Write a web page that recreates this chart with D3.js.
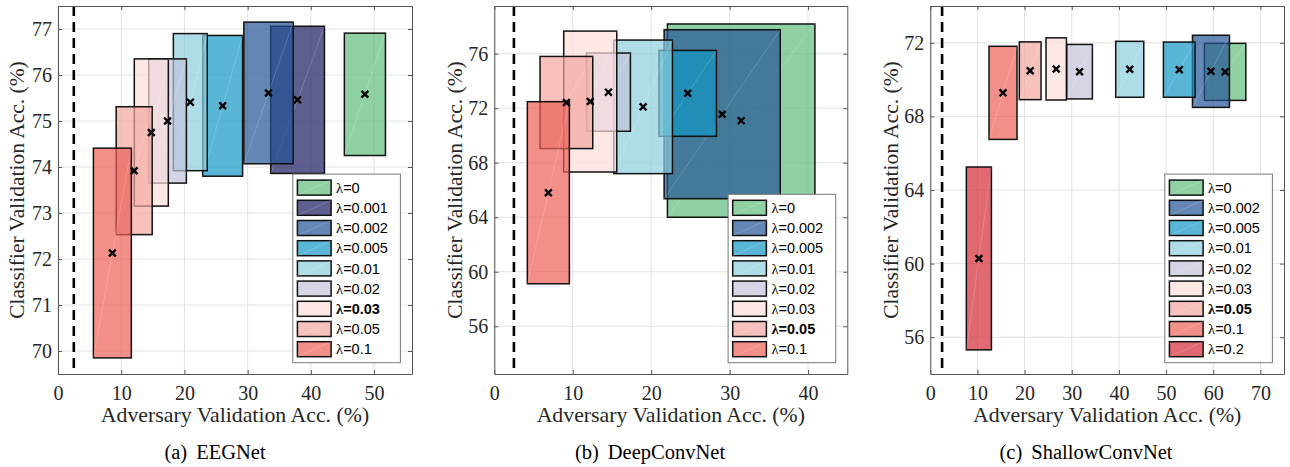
<!DOCTYPE html>
<html>
<head>
<meta charset="utf-8">
<script src="https://cdn.jsdelivr.net/npm/d3@7"></script>
<style>
  html, body { margin: 0; padding: 0; background: #fff; }
  svg { display: block; }
</style>
</head>
<body>
<svg id="chart" width="1290" height="467"></svg>
<script>
// ---------------- DATA ----------------
// Panel (a) EEGNet
const lambdasA   = ["0", "0.001", "0.002", "0.005", "0.01", "0.02", "0.03", "0.05", "0.1"];
const advMeanA   = [48.55, 37.90, 33.30, 26.05, 20.93, 17.33, 14.76, 12.05, 8.60];
const advStdA    = [3.25, 4.25, 3.90, 3.15, 2.68, 2.98, 2.69, 2.85, 3.00];
const clsMeanA   = [75.58, 75.46, 75.61, 75.33, 75.41, 75.00, 74.75, 73.92, 72.13];
const clsStdA    = [1.33, 1.60, 1.54, 1.53, 1.49, 1.35, 1.60, 1.39, 2.28];

// Panel (b) DeepConvNet
const lambdasB   = ["0", "0.002", "0.005", "0.01", "0.02", "0.03", "0.05", "0.1"];
const advMeanB   = [31.47, 29.05, 24.66, 18.97, 14.55, 12.23, 9.19, 6.89];
const advStdB    = [9.40, 7.40, 3.66, 3.74, 2.80, 3.38, 3.36, 2.68];
const clsMeanB   = [71.09, 71.56, 73.09, 72.10, 73.18, 72.49, 72.42, 65.80];
const clsStdB    = [7.09, 6.20, 3.15, 4.90, 2.87, 5.17, 3.38, 6.68];

// Panel (c) ShallowConvNet
const lambdasC   = ["0", "0.002", "0.005", "0.01", "0.02", "0.03", "0.05", "0.1", "0.2"];
const advMeanC   = [62.52, 59.51, 52.79, 42.29, 31.65, 26.70, 21.18, 15.42, 10.30];
const advStdC    = [4.39, 3.92, 3.36, 2.97, 2.72, 2.16, 2.30, 2.97, 2.66];
const clsMeanC   = [70.42, 70.45, 70.54, 70.56, 70.43, 70.58, 70.48, 69.28, 60.28];
const clsStdC    = [1.55, 1.96, 1.50, 1.52, 1.48, 1.69, 1.57, 2.53, 4.97];

// Highlighted (bold) legend entries
const boldA = "0.03", boldB = "0.05", boldC = "0.05";

// Axis ticks
const xTicksA = [0, 10, 20, 30, 40, 50];
const yTicksA = [70, 71, 72, 73, 74, 75, 76, 77];
const xTicksB = [0, 10, 20, 30, 40];
const yTicksB = [56, 60, 64, 68, 72, 76];
const xTicksC = [0, 10, 20, 30, 40, 50, 60, 70];
const yTicksC = [56, 60, 64, 68, 72];

// Chance level (dashed line)
const chanceLevel = 2.5;

// Texts
const xLabel = "Adversary Validation Acc. (%)";
const yLabel = "Classifier Validation Acc. (%)";
const captions = [["(a)", "EEGNet"], ["(b)", "DeepConvNet"], ["(c)", "ShallowConvNet"]];

// Colours per lambda (base colour, drawn with alpha)
const lambdaColors = {
  "0": "#5fbd7a",
  "0.001": "#1a1a60",
  "0.002": "#225495",
  "0.005": "#1397c4",
  "0.01": "#8bcfde",
  "0.02": "#c2c4db",
  "0.03": "#fcdedb",
  "0.05": "#f2a59e",
  "0.1": "#ec5f55",
  "0.2": "#d32a36"
};
const faceAlpha = 0.7;

// ---------------- LAYOUT ----------------
const panels = [
  { lambdas: lambdasA, advM: advMeanA, advS: advStdA, clsM: clsMeanA, clsS: clsStdA, bold: boldA,
    x0: 58, x1: 412, y0: 6, y1: 374, xDomain: [0, 56], yDomain: [69.5, 77.5],
    xTicks: xTicksA, yTicks: yTicksA, yLabelX: 24, capX: 215, caption: captions[0] },
  { lambdas: lambdasB, advM: advMeanB, advS: advStdB, clsM: clsMeanB, clsS: clsStdB, bold: boldB,
    x0: 494.3, x1: 847.3, y0: 6, y1: 374, xDomain: [0, 45], yDomain: [52.5, 79.5],
    xTicks: xTicksB, yTicks: yTicksB, yLabelX: 462, capX: 650, caption: captions[1] },
  { lambdas: lambdasC, advM: advMeanC, advS: advStdC, clsM: clsMeanC, clsS: clsStdC, bold: boldC,
    x0: 930.3, x1: 1284, y0: 6, y1: 374, xDomain: [0, 75], yDomain: [54, 74],
    xTicks: xTicksC, yTicks: yTicksC, yLabelX: 898, capX: 1086, caption: captions[2] }
];

const svg = d3.select("#chart");
const serif = "'Liberation Serif', 'Times New Roman', serif";
const sans = "'Liberation Sans', Arial, sans-serif";
const textColor = "#262626";
const axisColor = "#555";

panels.forEach(p => {
  const g = svg.append("g");
  const x = d3.scaleLinear().domain(p.xDomain).range([p.x0, p.x1]);
  const y = d3.scaleLinear().domain(p.yDomain).range([p.y1, p.y0]);

  // grid
  g.append("g").selectAll("line").data(p.xTicks).join("line")
    .attr("x1", d => x(d)).attr("x2", d => x(d))
    .attr("y1", p.y0).attr("y2", p.y1)
    .attr("stroke", "#e2e2e2").attr("stroke-width", 1);
  g.append("g").selectAll("line").data(p.yTicks).join("line")
    .attr("y1", d => y(d)).attr("y2", d => y(d))
    .attr("x1", p.x0).attr("x2", p.x1)
    .attr("stroke", "#e2e2e2").attr("stroke-width", 1);

  const clip = "clip" + p.x0.toFixed(0);
  svg.append("clipPath").attr("id", clip).append("rect")
    .attr("x", p.x0).attr("y", p.y0).attr("width", p.x1 - p.x0).attr("height", p.y1 - p.y0);

  const data = p.lambdas.map((l, i) => ({
    l, ax: p.advM[i], as: p.advS[i], cy: p.clsM[i], cs: p.clsS[i]
  }));

  // boxes (mean ± std)
  const boxes = g.append("g").attr("clip-path", `url(#${clip})`);
  data.forEach(d => {
    const bx0 = x(d.ax - d.as), bx1 = x(d.ax + d.as);
    const by0 = y(d.cy + d.cs), by1 = y(d.cy - d.cs);
    boxes.append("rect")
      .attr("x", bx0).attr("y", by0)
      .attr("width", bx1 - bx0).attr("height", by1 - by0)
      .attr("fill", lambdaColors[d.l]).attr("fill-opacity", faceAlpha)
      .attr("stroke", "#111").attr("stroke-width", 1.5);
    boxes.append("line")
      .attr("x1", bx0).attr("y1", by1).attr("x2", bx1).attr("y2", by0)
      .attr("stroke", "#fff").attr("stroke-opacity", 0.25).attr("stroke-width", 0.7);
  });

  // chance-level dashed line
  g.append("line")
    .attr("x1", x(chanceLevel)).attr("x2", x(chanceLevel))
    .attr("y1", p.y0).attr("y2", p.y1)
    .attr("stroke", "#000").attr("stroke-width", 2.6)
    .attr("stroke-dasharray", "10,6");

  // mean markers (x)
  const m = 3.4;
  g.append("g").selectAll("path").data(data).join("path")
    .attr("d", d => {
      const cx = x(d.ax), cy = y(d.cy);
      return `M${cx - m},${cy - m}L${cx + m},${cy + m}M${cx - m},${cy + m}L${cx + m},${cy - m}`;
    })
    .attr("stroke", "#000").attr("stroke-width", 2.4);

  // axes
  const fmt = d3.format("d");
  const bottom = g.append("g").attr("transform", `translate(0,${p.y1})`)
    .call(d3.axisBottom(x).tickValues(p.xTicks).tickFormat(fmt).tickSizeInner(-4).tickSizeOuter(0).tickPadding(12));
  const top = g.append("g").attr("transform", `translate(0,${p.y0})`)
    .call(d3.axisTop(x).tickValues(p.xTicks).tickFormat("").tickSizeInner(-4).tickSizeOuter(0));
  const left = g.append("g").attr("transform", `translate(${p.x0},0)`)
    .call(d3.axisLeft(y).tickValues(p.yTicks).tickFormat(fmt).tickSizeInner(-4).tickSizeOuter(0).tickPadding(6));
  const right = g.append("g").attr("transform", `translate(${p.x1},0)`)
    .call(d3.axisRight(y).tickValues(p.yTicks).tickFormat("").tickSizeInner(-4).tickSizeOuter(0));
  [bottom, top, left, right].forEach(a => {
    a.select(".domain").attr("stroke", axisColor).attr("stroke-width", 1);
    a.selectAll(".tick line").attr("stroke", axisColor);
    a.selectAll("text").attr("font-family", serif).attr("font-size", 20).attr("fill", textColor);
  });

  // axis labels
  g.append("text")
    .attr("x", (p.x0 + p.x1) / 2).attr("y", 422)
    .attr("text-anchor", "middle")
    .attr("font-family", serif).attr("font-size", 21.8).attr("fill", textColor)
    .text(xLabel);
  g.append("text")
    .attr("transform", `translate(${p.yLabelX},${(p.y0 + p.y1) / 2}) rotate(-90)`)
    .attr("text-anchor", "middle")
    .attr("font-family", serif).attr("font-size", 21.5).attr("fill", textColor)
    .text(yLabel);

  // caption
  const cap = g.append("text")
    .attr("x", p.capX).attr("y", 459)
    .attr("text-anchor", "middle")
    .attr("font-family", serif).attr("font-size", 20.5).attr("fill", "#000");
  cap.append("tspan").text(p.caption[0]);
  cap.append("tspan").attr("dx", 9).text(p.caption[1]);

  // legend
  const n = data.length;
  const step = 20.2;
  const lw = 107.6, lh = 27 + step * (n - 1);
  const lx = p.x1 - 11.6 - lw, ly = p.y1 - 11.3 - lh;
  const leg = g.append("g");
  leg.append("rect")
    .attr("x", lx).attr("y", ly).attr("width", lw).attr("height", lh)
    .attr("fill", "#fff").attr("stroke", "#777").attr("stroke-width", 1);
  data.forEach((d, i) => {
    const cy = ly + 13.5 + i * step;
    const sx0 = lx + 4.6, sx1 = lx + 38.3;
    leg.append("rect")
      .attr("x", sx0).attr("y", cy - 7.5).attr("width", sx1 - sx0).attr("height", 15)
      .attr("fill", lambdaColors[d.l]).attr("fill-opacity", faceAlpha)
      .attr("stroke", "#111").attr("stroke-width", 1.5);
    leg.append("line")
      .attr("x1", sx0).attr("y1", cy + 7.5).attr("x2", sx1).attr("y2", cy - 7.5)
      .attr("stroke", "#fff").attr("stroke-opacity", 0.25).attr("stroke-width", 0.7);
    const isBold = d.l === p.bold;
    const t = leg.append("text")
      .attr("x", sx1 + 5).attr("y", cy + 5.2)
      .attr("font-size", 14.5).attr("fill", "#000")
      .attr("font-weight", isBold ? "bold" : "normal");
    t.append("tspan").attr("font-family", serif).text("λ");
    t.append("tspan").attr("font-family", sans).text("=" + d.l);
  });
});
</script>
</body>
</html>
